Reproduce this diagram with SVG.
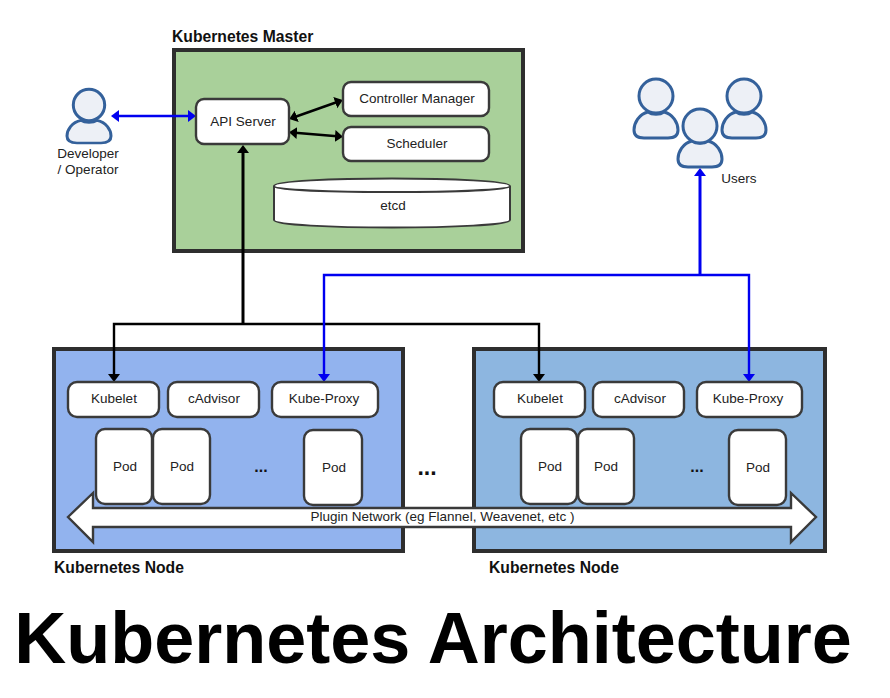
<svg xmlns="http://www.w3.org/2000/svg" width="890" height="698" viewBox="0 0 890 698">
<style>
text{font-family:"Liberation Sans",Arial,sans-serif;fill:#222;font-size:13.5px;text-anchor:middle}
.h{font-weight:bold;font-size:15.7px;text-anchor:start;fill:#111}
.box{fill:#fff;stroke:#3a3a3a;stroke-width:2.4}
.pan{stroke:#2e2e2e;stroke-width:4}
.p{fill:#edf0f6;stroke:#34619b;stroke-width:3}
.k{fill:none;stroke:#000;stroke-width:2.4}
.b{fill:none;stroke:#0000f0;stroke-width:2.4}
</style>
<defs>
<marker id="ak" markerUnits="userSpaceOnUse" markerWidth="14" markerHeight="14" refX="5" refY="6.500" orient="auto-start-reverse"><path d="M0 0.500L8 6.500L0 12.500Z" fill="#000"/></marker>
<marker id="ab" markerUnits="userSpaceOnUse" markerWidth="14" markerHeight="14" refX="5" refY="6.500" orient="auto-start-reverse"><path d="M0 0.500L8 6.500L0 12.500Z" fill="#0000f0"/></marker>
<path id="person" d="M-8 -3C-17 -1 -22 8 -22 15C-22 21 -18 23 -12 23H12C18 23 22 21 22 15C22 8 17 -1 8 -3C4 0 -4 0 -8 -3Z"/>
</defs>
<rect width="890" height="698" fill="#fff"/>
<g id="master">
<rect class="pan" x="174" y="50" width="349" height="201" fill="#a9d09a"/>
<text class="h" x="172" y="42">Kubernetes Master</text>
</g>
<g id="node1">
<rect class="pan" x="54" y="349" width="349" height="202" fill="#92b3ee"/>
<text class="h" x="54" y="573">Kubernetes Node</text>
</g>
<g id="node2">
<rect class="pan" x="474" y="349" width="351" height="202" fill="#8db6e0"/>
<text class="h" x="489" y="573">Kubernetes Node</text>
</g>
<g id="connectors">
<path class="b" d="M114 116H193" marker-start="url(#ab)" marker-end="url(#ab)"/>
<path class="k" d="M292 118L340 101" marker-start="url(#ak)" marker-end="url(#ak)"/>
<path class="k" d="M292 132.500L340 136.500" marker-start="url(#ak)" marker-end="url(#ak)"/>
<path class="k" d="M243 324V148" marker-end="url(#ak)" style="stroke-width:3"/>
<path class="k" d="M114 379V324H539V379" marker-start="url(#ak)" marker-end="url(#ak)"/>
<path class="b" d="M700 275V171" marker-end="url(#ab)" style="stroke-width:3"/>
<path class="b" d="M324 379V275H749V379" marker-start="url(#ab)" marker-end="url(#ab)"/>
</g>
<g id="developer">
<g transform="translate(89 123) scale(1 .87)"><use href="#person" class="p"/></g>
<circle class="p" cx="89" cy="105" r="15.700"/>
<text x="88" y="158">Developer</text>
<text x="88" y="174">/ Operator</text>
</g>
<g id="users">
<g transform="translate(656 115)"><use href="#person" class="p"/></g>
<circle class="p" cx="656" cy="96" r="17"/>
<g transform="translate(744 115)"><use href="#person" class="p"/></g>
<circle class="p" cx="744" cy="96" r="17"/>
<g transform="translate(700 144)"><use href="#person" class="p"/></g>
<circle class="p" cx="700" cy="126" r="17"/>
<text x="739" y="183">Users</text>
</g>
<g id="api-server"><rect class="box" x="196" y="99" width="93" height="45" rx="8"/><text x="243" y="126">API Server</text></g>
<g id="controller-manager"><rect class="box" x="343" y="82" width="146" height="34" rx="8"/><text x="417" y="103">Controller Manager</text></g>
<g id="scheduler"><rect class="box" x="343" y="127" width="146" height="34" rx="8"/><text x="417" y="148">Scheduler</text></g>
<g id="etcd">
<path class="box" style="stroke-width:2" d="M274 186C274 176 510 176 510 186V220C510 230 274 230 274 220Z"/>
<path fill="none" stroke="#3a3a3a" stroke-width="2" d="M274 186C274 194 510 194 510 186"/>
<text x="393" y="210">etcd</text>
</g>
<g id="n1-kubelet"><rect class="box" x="68" y="382" width="91" height="35" rx="9"/><text x="114" y="403">Kubelet</text></g>
<g id="n1-cadvisor"><rect class="box" x="168" y="382" width="91" height="35" rx="9"/><text x="214" y="403">cAdvisor</text></g>
<g id="n1-proxy"><rect class="box" x="272" y="382" width="106" height="35" rx="9"/><text x="324" y="403">Kube-Proxy</text></g>
<g id="n2-kubelet"><rect class="box" x="494" y="382" width="91" height="35" rx="9"/><text x="540" y="403">Kubelet</text></g>
<g id="n2-cadvisor"><rect class="box" x="593" y="382" width="91" height="35" rx="9"/><text x="640" y="403">cAdvisor</text></g>
<g id="n2-proxy"><rect class="box" x="697" y="382" width="105" height="35" rx="9"/><text x="748" y="403">Kube-Proxy</text></g>
<g id="n1-pod1"><rect class="box" x="96" y="429" width="56" height="75" rx="9"/><text x="125" y="471">Pod</text></g>
<g id="n1-pod2"><rect class="box" x="153" y="429" width="57" height="75" rx="9"/><text x="182" y="471">Pod</text></g>
<g id="n1-pod3"><rect class="box" x="304" y="430" width="58" height="75" rx="9"/><text x="334" y="472">Pod</text></g>
<g id="n2-pod1"><rect class="box" x="521" y="429" width="56" height="75" rx="9"/><text x="550" y="471">Pod</text></g>
<g id="n2-pod2"><rect class="box" x="578" y="429" width="56" height="75" rx="9"/><text x="606" y="471">Pod</text></g>
<g id="n2-pod3"><rect class="box" x="729" y="430" width="57" height="75" rx="9"/><text x="758" y="472">Pod</text></g>
<text x="261" y="472" style="font-weight:bold;font-size:16px;fill:#111">...</text>
<text x="697" y="472" style="font-weight:bold;font-size:16px;fill:#111">...</text>
<text x="427" y="475" style="font-weight:bold;font-size:23px;fill:#111">...</text>
<g id="plugin-network">
<path class="box" d="M68 517L93 493V508H791V493L816 517L791 542V527H93V542Z"/>
<text x="442.500" y="521">Plugin Network (eg Flannel, Weavenet, etc )</text>
</g>
<text x="433" y="663" style="font-weight:bold;font-size:72px;fill:#000">Kubernetes Architecture</text>
</svg>
